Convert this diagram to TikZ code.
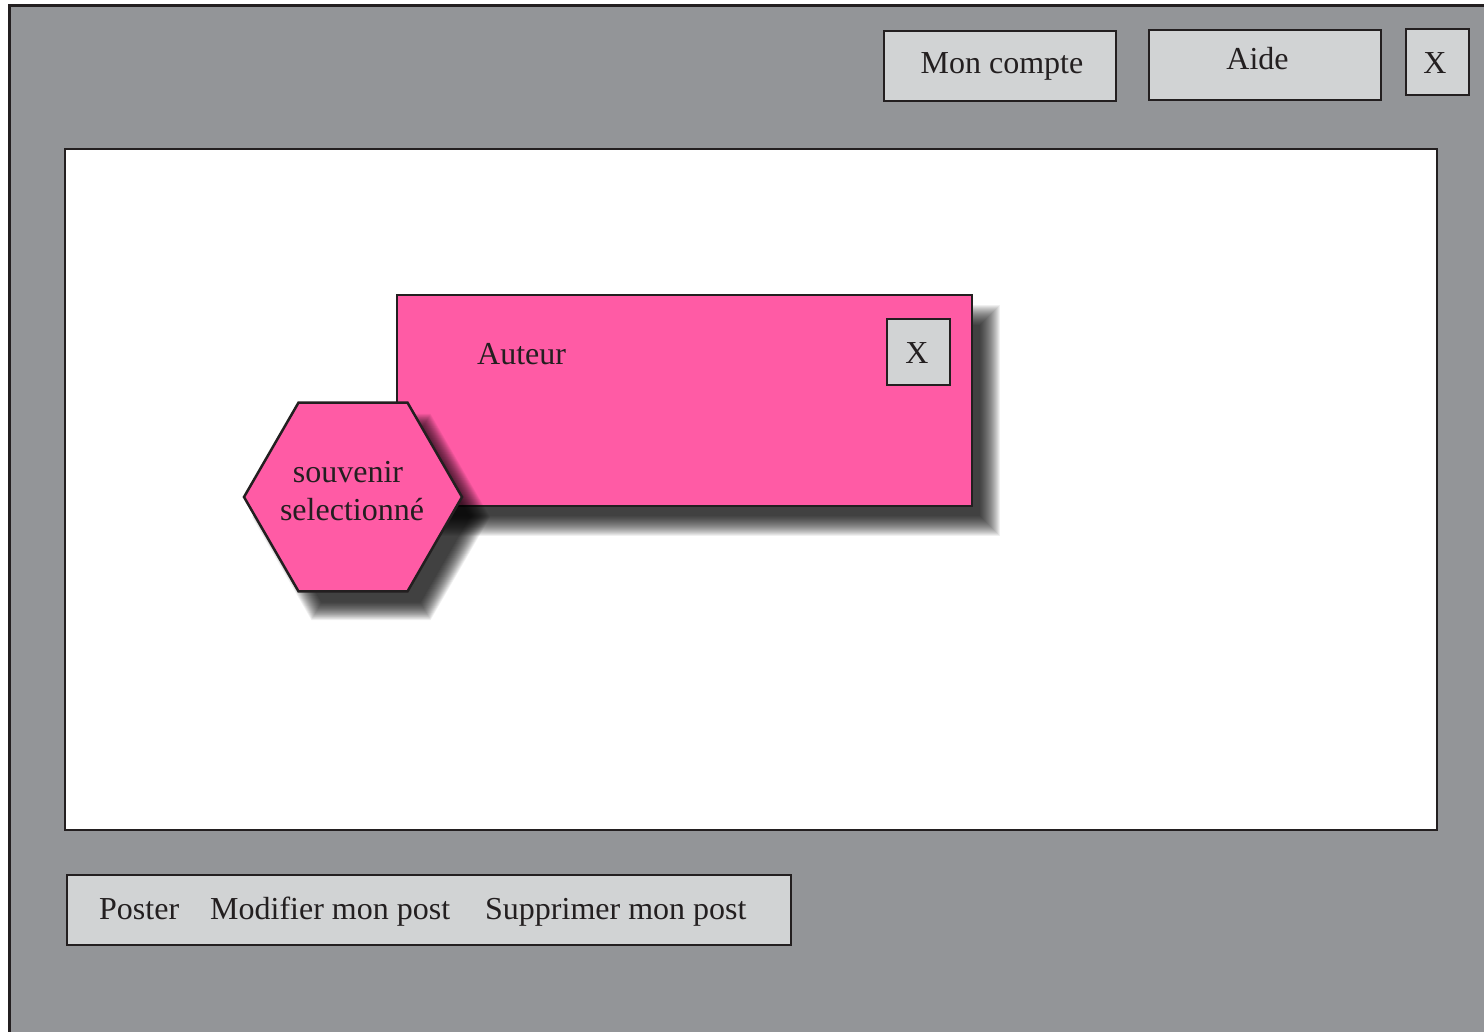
\documentclass[tikz,border=0pt]{standalone}
\usepackage{fontspec}
\setmainfont{Liberation Serif}
\usetikzlibrary{shapes.geometric}
\definecolor{framegray}{HTML}{939598}
\definecolor{btngray}{HTML}{D1D3D4}
\definecolor{pinkfill}{HTML}{FF5BA5}
\definecolor{edgecol}{HTML}{231F20}
\tikzset{
  lbl/.style={font=\fontsize{32}{38}\selectfont, text=edgecol, inner sep=0pt},
  btnbox/.style={draw=edgecol, line width=2.5pt, fill=btngray, inner sep=0pt},
  pinkbox/.style={draw=edgecol, line width=2.5pt, fill=pinkfill, inner sep=0pt},
  panel/.style={draw=edgecol, line width=2.5pt, fill=white, inner sep=0pt},
  shadowlayer/.style={fill=black, opacity=0.06}
}
\begin{document}
\begin{tikzpicture}[x=1pt,y=-1pt]
\useasboundingbox (0,0) rectangle (1484,1032);
\clip (0,0) rectangle (1484,1032);
\fill[white] (0,0) rectangle (1484,1032);
% outer window
\draw[fill=framegray, draw=edgecol, line width=3pt] (9,6) rectangle (1600,1100);
% top buttons
\node[btnbox, minimum width=232pt, minimum height=70pt] (compte) at (1000,66) {};
\node[lbl, anchor=base] (tcompte) at (1002,74) {Mon compte};
\node[btnbox, minimum width=232pt, minimum height=70pt] (aide) at (1265,65) {};
\node[lbl, anchor=base] (taide) at (1257.5,70) {Aide};
\node[btnbox, minimum width=63pt, minimum height=66pt] (close) at (1437.5,62) {};
\node[lbl, anchor=base] (tclose) at (1435,74) {X};
% main panel
\node[panel, minimum width=1372pt, minimum height=681pt] (main) at (751,489.5) {};
% shadow of the pink box
\foreach \e in {-10,-9,...,10} {
  \fill[shadowlayer] ({397+18-\e},{295+20-\e}) rectangle ({972+18+\e},{506+20+\e});
}
\node[pinkbox, minimum width=575pt, minimum height=211pt] (auteurbox) at (684.5,400.5) {};
\node[lbl, anchor=base west] (tauteur) at (477,365) {Auteur};
\node[btnbox, minimum width=63pt, minimum height=66pt] (xsmall) at (918.5,352) {};
\node[lbl, anchor=base] (txsmall) at (917,363) {X};
% shadow of the hexagon
\foreach \e in {-10,-9,...,10} {
  \fill[shadowlayer] (353+18,497+20) ++(0:109+\e) -- ++(120:109+\e) -- ++(180:109+\e) -- ++(240:109+\e) -- ++(300:109+\e) -- ++(0:109+\e) -- cycle;
}
\node[pinkbox, regular polygon, regular polygon sides=6, minimum size=218pt] (hex) at (353,497) {};
\node[lbl, anchor=base] (tsouv) at (348,482) {souvenir};
\node[lbl, anchor=base] (tsel) at (352,520) {selectionné};
% bottom bar
\node[btnbox, minimum width=724pt, minimum height=70pt] (bar) at (429,910) {};
\node[lbl, anchor=base west] (tposter) at (99,919) {Poster};
\node[lbl, anchor=base west] (tmodif) at (210,919) {Modifier mon post};
\node[lbl, anchor=base west] (tsuppr) at (485,919) {Supprimer mon post};
\end{tikzpicture}
\end{document}
